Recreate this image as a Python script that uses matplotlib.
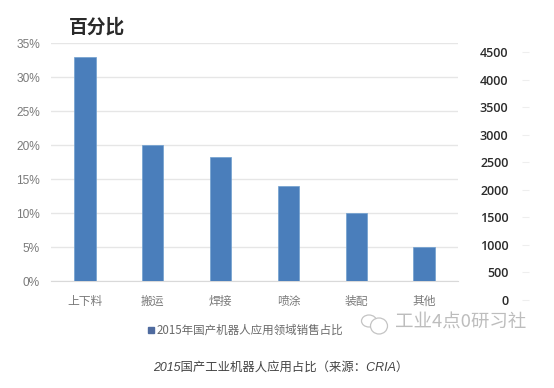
import matplotlib
matplotlib.use("Agg")
import matplotlib.pyplot as plt
from matplotlib.patches import Ellipse, Rectangle

plt.rcParams['font.family'] = ['Noto Sans CJK SC', 'DejaVu Sans']

categories = ['上下料', '搬运', '焊接', '喷涂', '装配', '其他']
values = [33, 20, 18.2, 14, 10, 5]
left_ticks = [0, 5, 10, 15, 20, 25, 30, 35]
right_ticks = [0, 500, 1000, 1500, 2000, 2500, 3000, 3500, 4000, 4500]
title = '百分比'
legend_label = '2015年国产机器人应用领域销售占比'
caption = '2015国产工业机器人应用占比（来源：CRIA）'
watermark = '工业4点0研习社'

W, H = 554, 388
BAR = '#4a7ebb'
GRID = '#e6e6e6'
LABEL = '#7a7a7a'

def box(l, t, r, b):
    return [l / W, 1 - b / H, (r - l) / W, (b - t) / H]

fig = plt.figure(figsize=(W / 100, H / 100), dpi=100, facecolor='white')

ax = fig.add_axes(box(51, 43, 458, 281))
ax.bar(range(len(categories)), values, width=0.315, color=BAR,
       edgecolor='#6f9fcf', linewidth=0.5, zorder=3)
ax.set_xlim(-0.5, len(categories) - 0.5)
ax.set_ylim(0, 35)
ax.set_yticks(left_ticks)
ax.set_yticklabels([f'{v}%' for v in left_ticks], fontsize=8.6, color=LABEL,
                   family=['Liberation Sans', 'DejaVu Sans'])
ax.set_xticks(range(len(categories)))
ax.set_xticklabels(categories, fontsize=8.5, color=LABEL)
ax.tick_params(axis='both', length=0)
ax.tick_params(axis='y', pad=8)
ax.tick_params(axis='x', pad=10)
ax.grid(axis='y', color=GRID, linewidth=1, zorder=0)
ax.set_axisbelow(True)
for s in ax.spines.values():
    s.set_visible(False)
ax.spines['bottom'].set_visible(True)
ax.spines['bottom'].set_color('#d9d9d9')

ax2 = fig.add_axes(box(514, 52, 522, 300))
ax2.patch.set_visible(False)
ax2.set_ylim(0, 4500)
ax2.set_xticks([])
ax2.set_yticks(right_ticks)
ax2.set_yticklabels([str(v) for v in right_ticks], fontsize=9, color='#2b2b2b',
                    fontweight='semibold', family=['Open Sans', 'DejaVu Sans'])
ax2.tick_params(axis='y', left=False, right=True, labelleft=True, labelright=False,
                length=5, width=0.8, color='#eeeeee', pad=-1)
for s in ax2.spines.values():
    s.set_visible(False)

fig.text(69 / W, 1 - 27 / H, title, fontsize=13.5, color='#2a2a2a',
         ha='left', va='center', fontweight='bold')

fig.patches.append(Rectangle((148 / W, 1 - 333 / H), 6 / W, 6 / H,
                             transform=fig.transFigure, color='#4f6b9f'))
fig.text(157 / W, 1 - 330.5 / H, legend_label, fontsize=8.3, color='#6a6a6a',
         ha='left', va='center', fontweight='medium')

fig.text(153 / W, 1 - 368 / H, caption, fontsize=8.9, color='#444444',
         ha='left', va='center', style='italic',
         family=['Liberation Sans', 'Noto Sans CJK SC'])

# WeChat-style watermark
for cx, cy, w, h in [(369, 321, 15, 12), (379, 326, 17, 16)]:
    fig.patches.append(Ellipse((cx / W, 1 - cy / H), w / W, h / H,
                               transform=fig.transFigure, facecolor='white',
                               edgecolor='#c4c4c4', linewidth=0.9))
fig.text(395 / W, 1 - 323 / H, watermark, fontsize=13.3, color='#bdbdbd',
         ha='left', va='center')

fig.savefig('out.png', dpi=100, facecolor='white')
